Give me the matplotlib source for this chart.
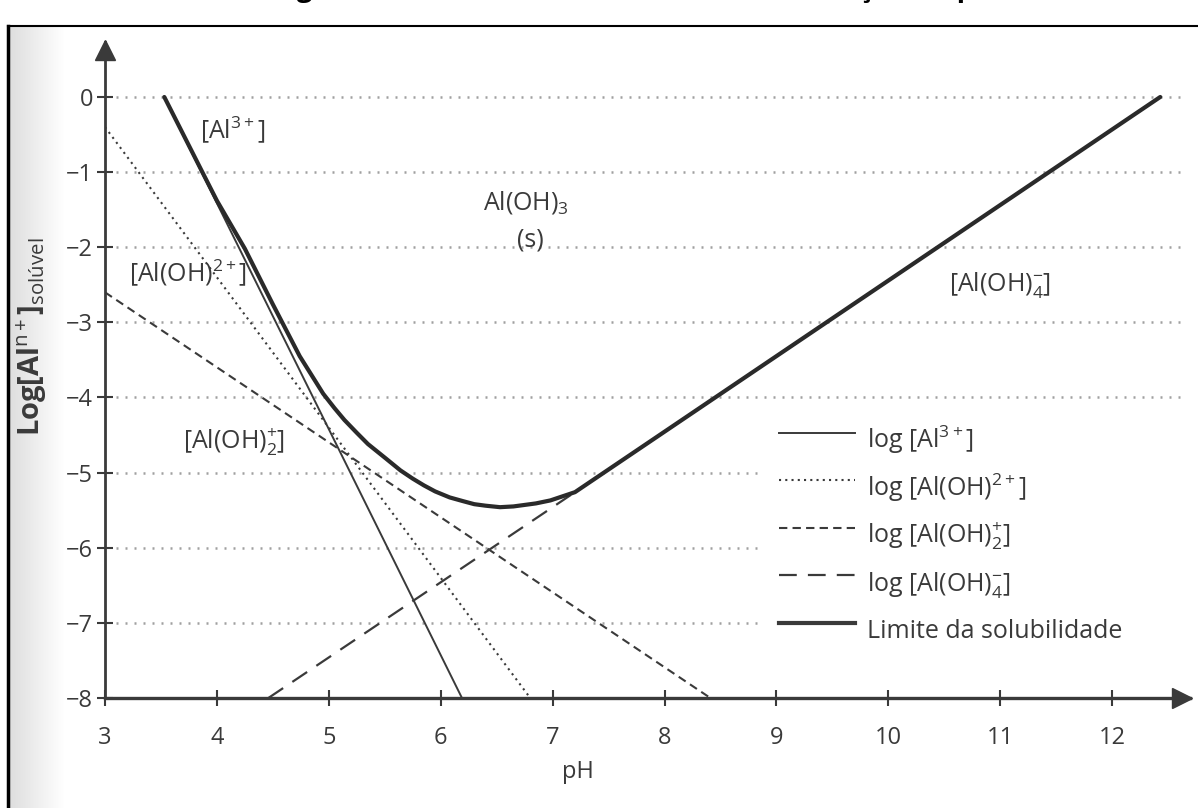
import numpy as np
import matplotlib.pyplot as plt
from matplotlib.lines import Line2D

plt.rcParams['font.family'] = ['Open Sans', 'DejaVu Sans']
plt.rcParams['mathtext.fontset'] = 'custom'
plt.rcParams['mathtext.rm'] = 'Open Sans'
plt.rcParams['mathtext.it'] = 'Open Sans:italic'
plt.rcParams['mathtext.bf'] = 'Open Sans:bold'

# endpoints of the species lines (pH, log concentration)
ph_al3 = [3.53, 6.19]
log_al3 = [0.0, -8.0]
ph_aloh = [3.0, 6.80]
log_aloh = [-0.4, -8.0]
ph_aloh2 = [3.0, 8.41]
log_aloh2 = [-2.6, -8.0]
ph_aloh4 = [4.46, 7.20]
log_aloh4 = [-8.0, -5.26]

# solubility limit (thick curve)
ph_lim = [3.53, 3.87, 4.0, 4.25, 4.5, 4.74, 4.95, 5.05, 5.14, 5.25, 5.35,
          5.5, 5.64, 5.75, 5.85, 5.95, 6.08, 6.2, 6.3, 6.4, 6.53, 6.65, 6.75,
          6.85, 6.98, 7.08, 7.2, 12.43]
log_lim = [0.0, -1.0, -1.38, -2.02, -2.76, -3.45, -3.95, -4.14, -4.30, -4.47,
           -4.62, -4.80, -4.97, -5.08, -5.17, -5.25, -5.33, -5.38, -5.42,
           -5.44, -5.46, -5.45, -5.43, -5.41, -5.37, -5.32, -5.26, 0.0]

ph_ticks = list(range(3, 13))
log_ticks = list(range(-8, 1))
grid_long = [0, -1, -2, -3, -4]
grid_short = [-5, -6, -7]

ink = '#3a3a3a'

fig = plt.figure(figsize=(11.98, 8.08), dpi=100)

# scan shadow along the left edge of the page
gax = fig.add_axes([10/1198, 0, 55/1198, 781/808])
gax.imshow(np.linspace(0.87, 1.0, 200)[None, :], cmap='gray', vmin=0, vmax=1,
           aspect='auto')
gax.axis('off')

# page frame
fig.add_artist(Line2D([8/1198, 8/1198], [0, 782/808], transform=fig.transFigure,
                      lw=2.5, color='black'))
fig.add_artist(Line2D([8/1198, 1], [782/808, 782/808], transform=fig.transFigure,
                      lw=1.5, color='black'))
fig.text(0.228, 1 + 4/808, 'Figura 2 – Solubilidade do alumínio em função do pH',
         fontsize=20, fontweight='bold', color='black', va='baseline', ha='left')

ax = fig.add_axes([105/1198, 110/808, 1085/1198, 656/808])
ax.set_xlim(3, 12.696)
ax.set_ylim(-8, 0.732)
ax.patch.set_alpha(0)

for s in ['top', 'right']:
    ax.spines[s].set_visible(False)
ax.spines['left'].set_linewidth(2)
ax.spines['bottom'].set_linewidth(2.4)
ax.spines['left'].set_color(ink)
ax.spines['bottom'].set_color(ink)

ax.set_xticks(ph_ticks)
ax.set_yticks(log_ticks)
ax.tick_params(direction='inout', length=11, width=1.5, color=ink,
               labelcolor=ink, labelsize=17)
ax.tick_params(axis='x', pad=15)
ax.tick_params(axis='y', pad=3)

# arrow heads
ax.plot([3], [0.63], marker='^', ms=15, color=ink, clip_on=False, zorder=5)
ax.plot([12.625], [-8], marker='>', ms=15, color=ink, clip_on=False, zorder=5)

for v in grid_long:
    ax.plot([3.1, 12.62], [v, v], ls=(0, (0.8, 2.8)), lw=1.8, color='#a0a0a0')
for v in grid_short:
    ax.plot([3.1, 8.85], [v, v], ls=(0, (0.8, 2.8)), lw=1.8, color='#a0a0a0')

styles = [
    dict(ls='-', lw=1.4),
    dict(ls=(0, (1, 2)), lw=1.5),
    dict(ls=(0, (4, 2.5)), lw=1.5),
    dict(ls=(0, (8, 5)), lw=1.6),
    dict(ls='-', lw=3.0),
]
ax.plot(ph_al3, log_al3, color=ink, **styles[0])
ax.plot(ph_aloh, log_aloh, color=ink, **styles[1])
ax.plot(ph_aloh2, log_aloh2, color=ink, **styles[2])
ax.plot(ph_aloh4, log_aloh4, color=ink, **styles[3])
ax.plot(ph_lim, log_lim, color='#2a2a2a', solid_joinstyle='round',
        solid_capstyle='round', zorder=4, **styles[4])

txt = dict(fontsize=18, color=ink, ha='center', va='center')
ax.text(4.14, -0.44, r'[Al$^{3+}$]', **txt)
ax.text(6.76, -1.40, r'Al(OH)$_3$', **txt)
ax.text(6.80, -1.90, '(s)', **txt)
ax.text(3.74, -2.34, r'[Al(OH)$^{2+}$]', **txt)
ax.text(4.15, -4.60, r'[Al(OH)$_2^{+}$]', **txt)
ax.text(11.0, -2.50, r'[Al(OH)$_4^{-}$]', **txt)

# legend key
labels = [r'log [Al$^{3+}$]', r'log [Al(OH)$^{2+}$]', r'log [Al(OH)$_2^{+}$]',
          r'log [Al(OH)$_4^{-}$]', 'Limite da solubilidade']
for i, (lab, st) in enumerate(zip(labels, styles)):
    y = -(433 + 47.5 * i - 97) / 75.125
    ax.plot([9.02, 9.70], [y, y], color=ink, **st)
    ax.text(9.81, y - 0.2, lab, fontsize=18, color=ink, ha='left', va='baseline')

ax.set_xlabel('pH', fontsize=17, color=ink)
ax.xaxis.set_label_coords(0.436, -0.094)
ax.set_ylabel(r'Log[Al$^{\mathrm{n+}}$]$_{\mathrm{solúvel}}$', fontsize=21,
              fontweight='bold', color=ink)
ax.yaxis.set_label_coords(-0.052, 0.55)

fig.savefig('out.png', dpi=100)
